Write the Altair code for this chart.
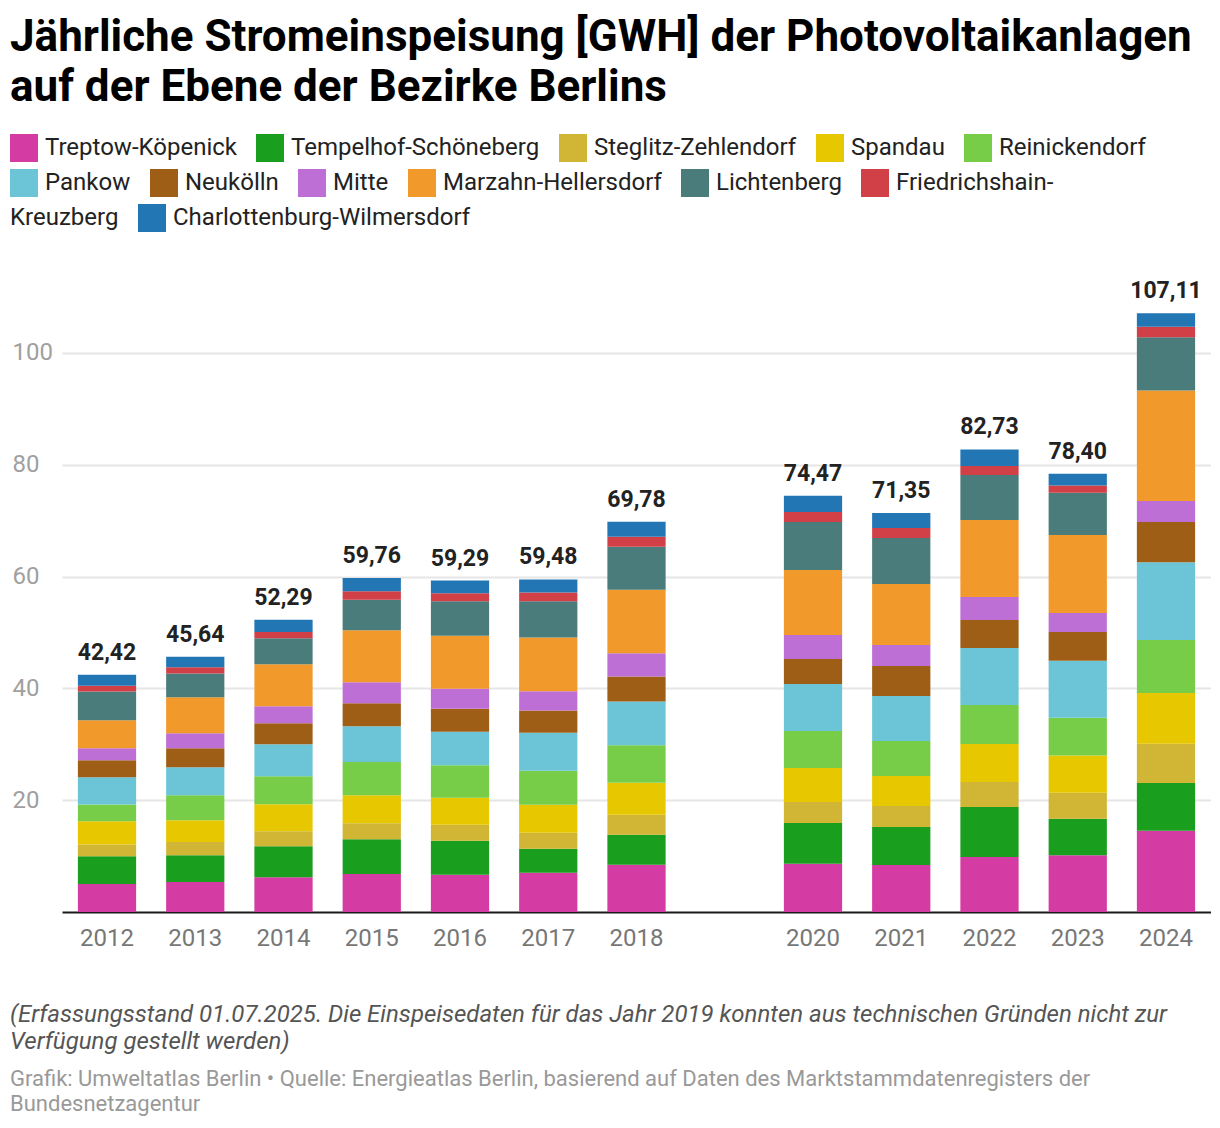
import altair as alt
import pandas as pd

# ---------------- data ----------------
YEARS = ["2012", "2013", "2014", "2015", "2016", "2017", "2018",
         "2020", "2021", "2022", "2023", "2024"]
AXIS_YEARS = ["2012", "2013", "2014", "2015", "2016", "2017", "2018", "2019",
              "2020", "2021", "2022", "2023", "2024"]

DISTRICTS = ["Treptow-Köpenick", "Tempelhof-Schöneberg", "Steglitz-Zehlendorf",
             "Spandau", "Reinickendorf", "Pankow", "Neukölln", "Mitte",
             "Marzahn-Hellersdorf", "Lichtenberg", "Friedrichshain-Kreuzberg",
             "Charlottenburg-Wilmersdorf"]
COLORS = ["#d43ba3", "#1a9e1e", "#d1b535", "#e6c700", "#77cd47", "#6bc5d7",
          "#9e5e16", "#be6fd5", "#f2992c", "#4a7c7c", "#d13f47", "#2276b3"]

TREPTOW_KOEPENICK = [5.00, 5.37, 6.20, 6.80, 6.68, 7.04, 8.47, 8.65, 8.41, 9.84, 10.17, 14.55]
TEMPELHOF_SCHOENEBERG = [4.95, 4.77, 5.55, 6.20, 6.08, 4.29, 5.36, 7.27, 6.80, 8.94, 6.50, 8.54]
STEGLITZ_ZEHLENDORF = [2.14, 2.38, 2.68, 2.86, 2.86, 2.86, 3.58, 3.76, 3.75, 4.48, 4.66, 6.99]
SPANDAU = [4.12, 3.88, 4.83, 5.01, 4.83, 5.01, 5.73, 6.08, 5.37, 6.79, 6.64, 9.11]
REINICKENDORF = [3.04, 4.47, 5.01, 5.96, 5.79, 6.08, 6.68, 6.62, 6.26, 6.98, 6.78, 9.47]
PANKOW = [4.83, 5.01, 5.72, 6.38, 6.02, 6.80, 7.81, 8.41, 8.05, 10.20, 10.17, 13.91]
NEUKOELLN = [3.04, 3.40, 3.76, 4.12, 4.11, 3.94, 4.47, 4.47, 5.37, 5.01, 5.15, 7.20]
MITTE = [2.15, 2.68, 3.04, 3.76, 3.58, 3.46, 4.17, 4.29, 3.75, 4.11, 3.39, 3.75]
MARZAHN_HELLERSDORF = [5.01, 6.44, 7.51, 9.30, 9.48, 9.60, 11.39, 11.63, 10.92, 13.78, 13.98, 19.77]
LICHTENBERG = [5.18, 4.24, 4.66, 5.48, 6.15, 6.50, 7.69, 8.59, 8.23, 8.05, 7.56, 9.53]
FRIEDRICHSHAIN_KREUZBERG = [1.02, 1.13, 1.13, 1.49, 1.43, 1.55, 1.79, 1.79, 1.78, 1.61, 1.27, 1.84]
CHARLOTTENBURG_WILMERSDORF = [1.94, 1.87, 2.20, 2.40, 2.28, 2.35, 2.64, 2.91, 2.66, 2.94, 2.13, 2.45]

SERIES = [TREPTOW_KOEPENICK, TEMPELHOF_SCHOENEBERG, STEGLITZ_ZEHLENDORF, SPANDAU,
          REINICKENDORF, PANKOW, NEUKOELLN, MITTE, MARZAHN_HELLERSDORF,
          LICHTENBERG, FRIEDRICHSHAIN_KREUZBERG, CHARLOTTENBURG_WILMERSDORF]

# legend rows as they wrap in the reference
LEGEND_ROW1 = DISTRICTS[0:5]
LEGEND_ROW2 = DISTRICTS[5:11]
LEGEND_ROW3 = DISTRICTS[11:12]
WRAP_HEAD = "Friedrichshain-"
WRAP_TAIL = "Kreuzberg"

TITLE = ["Jährliche Stromeinspeisung [GWH] der Photovoltaikanlagen",
         "auf der Ebene der Bezirke Berlins"]
NOTE = ["(Erfassungsstand 01.07.2025. Die Einspeisedaten für das Jahr 2019 konnten aus technischen Gründen nicht zur",
        "Verfügung gestellt werden)"]
SOURCE = ["Grafik: Umweltatlas Berlin • Quelle: Energieatlas Berlin, basierend auf Daten des Marktstammdatenregisters der",
          "Bundesnetzagentur"]

rows = []
for i, (name, vals) in enumerate(zip(DISTRICTS, SERIES)):
    for y, v in zip(YEARS, vals):
        rows.append({"year": y, "district": name, "idx": i, "value": v})
df = pd.DataFrame(rows)

# ---------------- chart ----------------
W, H = 1149, 615
color_scale = alt.Scale(domain=DISTRICTS, range=COLORS)

x_enc = alt.X(
    "year:N",
    scale=alt.Scale(domain=AXIS_YEARS, paddingInner=0.34, paddingOuter=0.18),
    axis=alt.Axis(title=None, labelExpr="datum.label == '2019' ? '' : datum.label",
                  ticks=False, tickSize=0, domainColor="#1a1a1a", domainWidth=2,
                  labelColor="#777777", labelFontSize=24, labelPadding=14,
                  labelAngle=0, grid=False),
)

bars = alt.Chart(df).mark_bar().encode(
    x=x_enc,
    y=alt.Y("value:Q", stack="zero",
            scale=alt.Scale(domain=[0, 110], nice=False, zero=True),
            axis=alt.Axis(title=None, values=[20, 40, 60, 80, 100],
                          labelAlign="left", labelPadding=50, ticks=False,
                          tickSize=0, domain=False, labelColor="#a0a0a0",
                          labelFontSize=24, gridColor="#e6e6e6", gridWidth=2,
                          labelBaseline="middle")),
    color=alt.Color("district:N", scale=color_scale, legend=None),
    order=alt.Order("idx:Q", sort="ascending"),
)


def legend_layer(values, lx, ly, label_expr=None):
    kw = dict(values=values, title=None, orient="none", legendX=lx, legendY=ly,
              direction="horizontal", symbolType="square", symbolSize=784,
              symbolStrokeWidth=0, symbolOpacity=1, labelFontSize=24,
              labelColor="#222222", labelOffset=7, columnPadding=19,
              labelLimit=600)
    if label_expr:
        kw["labelExpr"] = label_expr
    return alt.Chart(df).transform_filter("false").mark_bar().encode(
        color=alt.Color("district:N", scale=color_scale, legend=alt.Legend(**kw))
    )


leg1 = legend_layer(LEGEND_ROW1, -52, -163)
leg2 = legend_layer(LEGEND_ROW2, -52, -128,
                    f"datum.label == '{DISTRICTS[10]}' ? '{WRAP_HEAD}' : datum.label")
leg3 = legend_layer(LEGEND_ROW3, 76, -93)

one = pd.DataFrame({"a": [0]})
wrap_tail = alt.Chart(one).mark_text(
    text=WRAP_TAIL, align="left", baseline="middle", fontSize=24, color="#222222",
).encode(x=alt.value(-52), y=alt.value(-79))

totals = alt.Chart(df).transform_aggregate(
    total="sum(value)", groupby=["year"]
).transform_calculate(
    label="replace(format(datum.total, '.2f'), '.', ',')"
).mark_text(baseline="bottom", dy=-10, fontSize=23, fontWeight="bold",
            color="#222222").encode(
    x=alt.X("year:N", scale=alt.Scale(domain=AXIS_YEARS)),
    y=alt.Y("total:Q"),
    text="label:N",
)

note = alt.Chart(one).mark_text(
    text=NOTE, align="left", baseline="middle", fontSize=24, fontStyle="italic",
    color="#555555", lineHeight=27,
).encode(x=alt.value(-52), y=alt.value(H + 103))

source = alt.Chart(one).mark_text(
    text=SOURCE, align="left", baseline="middle", fontSize=22,
    color="#999999", lineHeight=25,
).encode(x=alt.value(-52), y=alt.value(H + 167))

chart = alt.layer(bars, totals, leg1, leg2, leg3, wrap_tail, note, source).resolve_scale(
    color="independent"
).properties(
    width=W, height=H,
    title=alt.Title(text=TITLE, anchor="start", fontSize=44, fontWeight="bold",
                    color="#000000", lineHeight=50, offset=24, font="Roboto",
                    frame="bounds"),
    padding={"left": 2, "top": 8, "right": 0, "bottom": 2},
).configure(font="Roboto").configure_view(stroke=None)

chart.save("out.html", embed_options={"renderer": "svg", "actions": False})
